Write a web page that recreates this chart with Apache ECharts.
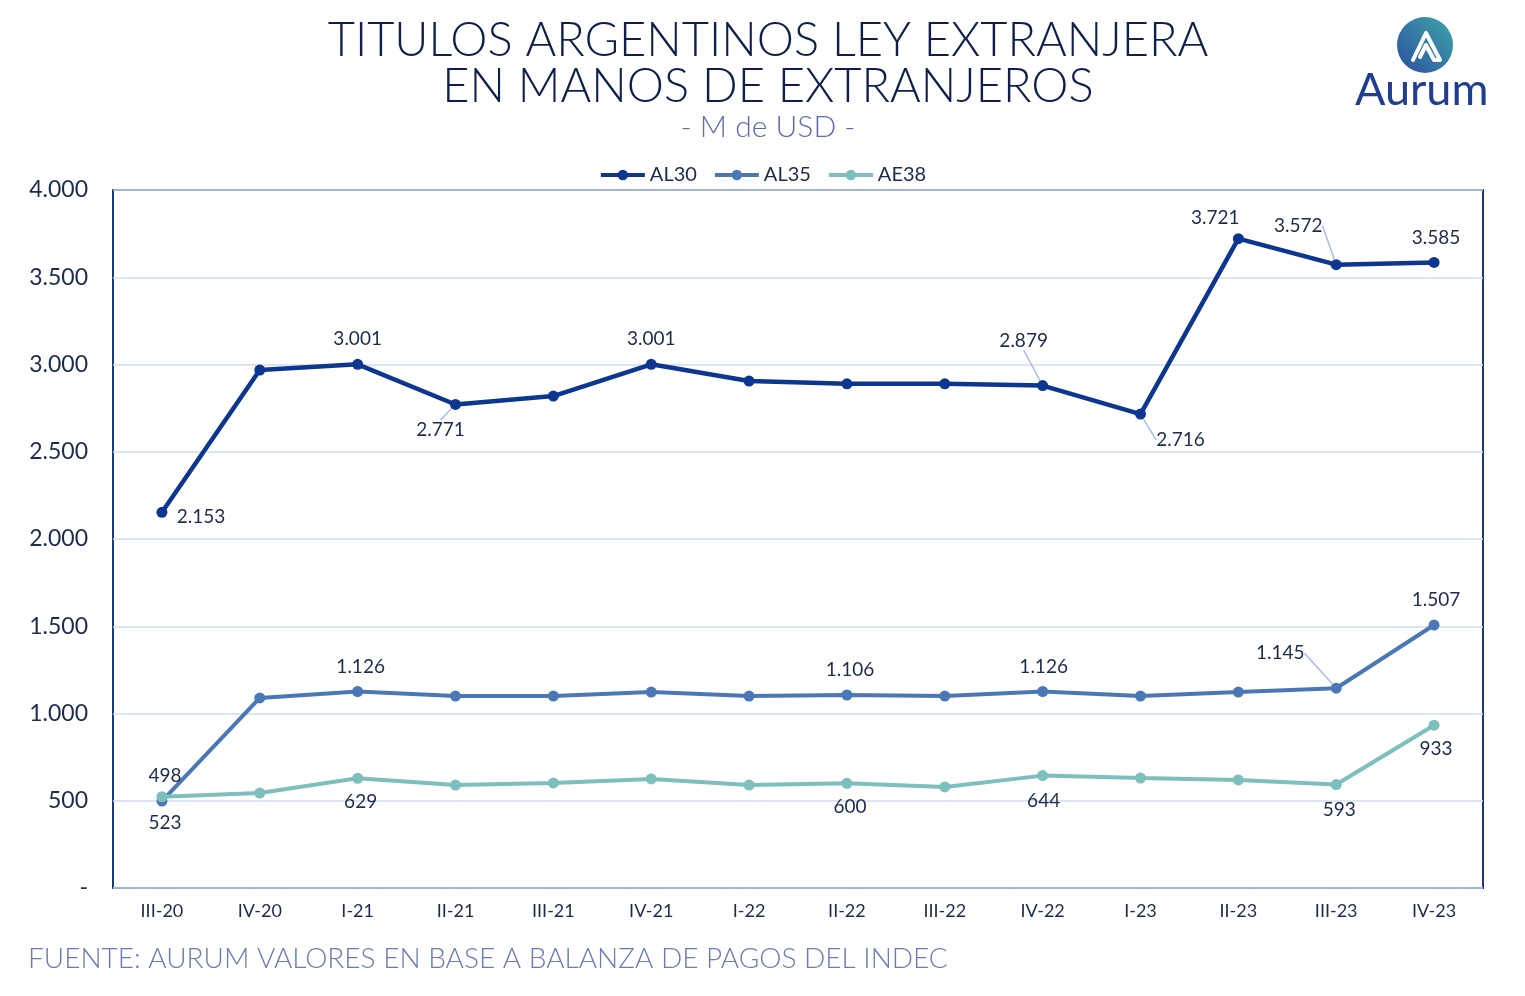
<!DOCTYPE html>
<html>
<head>
<meta charset="utf-8">
<script src="https://cdn.jsdelivr.net/npm/echarts@6/dist/echarts.min.js"></script>
<style>
  html, body { margin: 0; padding: 0; background: #fff; }
  #main { width: 1525px; height: 996px; }
</style>
</head>
<body>
<div id="main"></div>
<script>
// datos (M de USD)
var trimestres = ['III-20','IV-20','I-21','II-21','III-21','IV-21','I-22','II-22','III-22','IV-22','I-23','II-23','III-23','IV-23'];
var al30 = [2153, 2968, 3001, 2771, 2819, 3001, 2905, 2889, 2889, 2879, 2716, 3721, 3572, 3585];
var al35 = [498, 1089, 1126, 1100, 1100, 1123, 1100, 1106, 1100, 1126, 1100, 1123, 1145, 1507];
var ae38 = [523, 544, 629, 590, 602, 625, 590, 600, 579, 644, 630, 619, 593, 933];
var yTicks = [0, 500, 1000, 1500, 2000, 2500, 3000, 3500, 4000];

// etiquetas visibles: indice -> [dx, dy, conLinea]
var lblAL30 = {0:[39,5], 2:[0,-25], 3:[-15,25,1], 5:[0,-25], 9:[-19,-45,1], 10:[40,26,1], 11:[-23,-21], 12:[-38,-39,1], 13:[2,-25]};
var lblAL35 = {0:[3,-25], 2:[3,-25], 7:[3,-25], 9:[1,-25], 12:[-56,-35,1], 13:[2,-25]};
var lblAE38 = {0:[3,26], 2:[3,24], 7:[3,24], 9:[1,25], 12:[3,25], 13:[2,24]};

var FONT = 'Lato, "Open Sans", sans-serif';
var TXT = '#1c2b4d';

function fmt(v){
  return String(v).replace(/\B(?=(\d{3})+(?!\d))/g, '.');
}

function armar(vals, lbls){
  var out = [];
  for (var i = 0; i < vals.length; i++) {
    var l = lbls[i];
    if (l) {
      var it = { value: vals[i], label: { show: true } };
      if (l[2]) {
        it.labelLine = { show: true, lineStyle: { color: '#9fb5e2', width: 1.3 } };
      }
      out.push(it);
    } else {
      out.push(vals[i]);
    }
  }
  return out;
}

function serie(nombre, vals, lbls, color, ancho){
  return {
    name: nombre,
    type: 'line',
    data: armar(vals, lbls),
    symbol: 'circle',
    symbolSize: 11,
    lineStyle: { color: color, width: ancho },
    itemStyle: { color: color },
    label: {
      show: false,
      position: 'inside',
      formatter: function(p){ return fmt(p.value); },
      color: TXT,
      fontSize: 19,
      fontFamily: FONT
    },
    labelLayout: function(p){
      var l = lbls[p.dataIndex];
      return l ? { dx: l[0], dy: l[1] } : {};
    },
    animation: false
  };
}

var myChart = echarts.init(document.getElementById('main'));
myChart.setOption({
  backgroundColor: '#ffffff',
  title: [{
    text: 'TITULOS ARGENTINOS LEY EXTRANJERA\nEN MANOS DE EXTRANJEROS',
    left: 763, top: 13, textAlign: 'center',
    textStyle: { fontFamily: FONT, fontWeight: 300, fontSize: 47, lineHeight: 46, color: '#0d1f4a' }
  }, {
    text: '- M de USD -',
    left: 763, top: 107, textAlign: 'center',
    textStyle: { fontFamily: FONT, fontWeight: 300, fontSize: 30, color: '#5c6caa' }
  }],
  legend: {
    top: 160, left: 'center',
    itemWidth: 44, itemHeight: 13, itemGap: 16,
    lineStyle: { width: 4 },
    textStyle: { fontFamily: FONT, fontSize: 20, color: TXT },
    data: ['AL30', 'AL35', 'AE38']
  },
  grid: {
    left: 113, right: 42, top: 190, bottom: 108,
    show: true, borderColor: '#173a82', borderWidth: 2,
    containLabel: false
  },
  xAxis: {
    type: 'category',
    data: trimestres,
    boundaryGap: true,
    axisLine: { show: false },
    axisTick: { show: false },
    axisLabel: { fontFamily: FONT, fontSize: 18, color: TXT, margin: 14 }
  },
  yAxis: {
    type: 'value',
    min: yTicks[0], max: yTicks[yTicks.length - 1], interval: 500,
    axisLine: { show: false },
    axisTick: { show: false },
    splitLine: { lineStyle: { color: '#d2ddf1', width: 1.5 } },
    axisLabel: {
      fontFamily: FONT, fontSize: 23, color: TXT, margin: 25,
      formatter: function(v){ return v === 0 ? '-' : fmt(v); }
    }
  },
  graphic: [
    // logo Aurum
    {
      type: 'circle', shape: { cx: 1425, cy: 45, r: 28 },
      style: {
        fill: new echarts.graphic.LinearGradient(0, 1, 1, 0, [
          { offset: 0, color: '#2b4fa3' },
          { offset: 1, color: '#3fa6a6' }
        ])
      }
    },
    {
      type: 'polyline',
      shape: { points: [[1413, 60], [1426, 33], [1440, 60], [1434, 60], [1426, 45], [1420, 57]] },
      style: { fill: 'none', stroke: '#ffffff', lineWidth: 4, lineJoin: 'round', lineCap: 'round' }
    },
    {
      type: 'text', left: 1355, top: 68,
      style: { text: 'Aurum', fontFamily: FONT, fontSize: 45, fontWeight: 'normal', fill: '#1f3e91' }
    },
    // fuente
    {
      type: 'text', left: 28, top: 945,
      style: { text: 'FUENTE: AURUM VALORES EN BASE A BALANZA DE PAGOS DEL INDEC', fontFamily: FONT, fontWeight: 300, fontSize: 28, fill: '#6a7bb6' }
    }
  ],
  series: [
    serie('AL30', al30, lblAL30, '#0c3690', 4.5),
    serie('AL35', al35, lblAL35, '#4a78b6', 4),
    serie('AE38', ae38, lblAE38, '#7cbfbc', 4)
  ]
});
</script>
</body>
</html>
